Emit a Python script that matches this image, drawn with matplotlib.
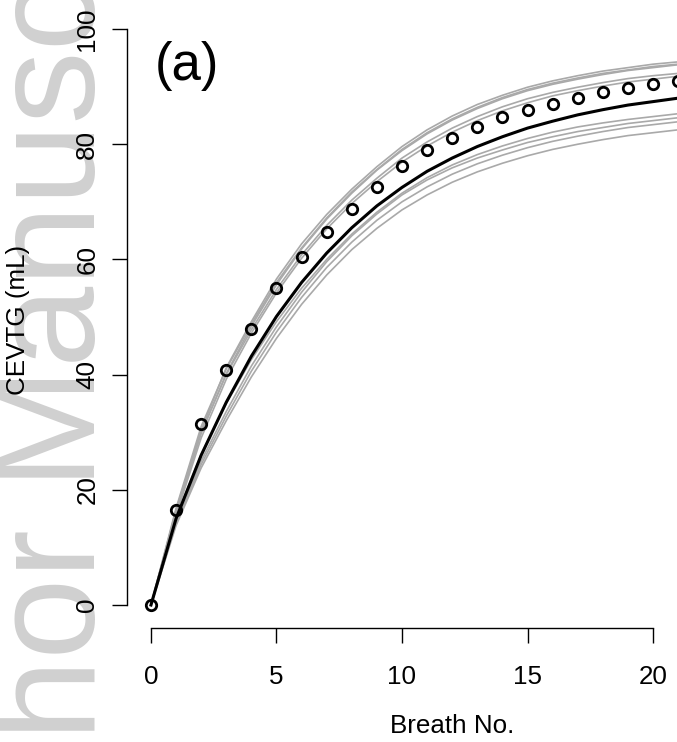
import matplotlib
matplotlib.use("Agg")
import matplotlib.pyplot as plt

plt.rcParams['font.family'] = ['Liberation Sans', 'DejaVu Sans']

# breath number and CEVTG volumes (mL)
breaths = list(range(25))
measured = [0, 16.5, 31.5, 40.8, 48.0, 55.1, 60.5, 64.8, 68.8, 72.5, 76.3, 79.0, 81.1,
            83.0, 84.7, 85.9, 87.0, 88.0, 89.0, 89.7, 90.4, 91.0, 91.5, 92.0, 92.4]
model = [0, 15.0, 26.0, 35.2, 43.2, 50.1, 56.0, 61.1, 65.5, 69.3, 72.5, 75.3, 77.6,
         79.6, 81.3, 82.8, 84.0, 85.1, 86.0, 86.8, 87.4, 88.0, 88.4, 88.8, 89.1]

# individual runs (grey)
run_u1 = [0, 16.5, 30.4, 41.2, 49.2, 56.6, 62.7, 67.8, 72.2, 76.1, 79.6, 82.5, 84.9,
          86.9, 88.5, 89.9, 91.0, 91.9, 92.7, 93.3, 93.9, 94.3, 94.7, 95.0, 95.2]
run_u2 = [0, 16.8, 31.0, 41.0, 48.8, 56.0, 62.0, 67.2, 71.7, 75.6, 79.1, 82.0, 84.4,
          86.4, 88.1, 89.5, 90.6, 91.5, 92.3, 92.9, 93.5, 93.9, 94.3, 94.6, 94.8]
run_u3 = [0, 16.0, 29.8, 40.2, 48.4, 55.6, 61.8, 67.0, 71.5, 75.5, 78.9, 81.8, 84.2,
          86.2, 87.9, 89.3, 90.4, 91.3, 92.1, 92.8, 93.3, 93.8, 94.2, 94.5, 94.7]
run_m1 = [0, 16.2, 30.0, 40.0, 47.8, 54.8, 60.8, 65.9, 70.3, 74.1, 77.6, 80.4, 82.8,
          84.8, 86.5, 87.9, 89.0, 89.9, 90.7, 91.4, 91.9, 92.3, 92.7, 93.0, 93.2]
run_m2 = [0, 15.6, 29.0, 39.2, 47.2, 54.2, 60.2, 65.3, 69.7, 73.5, 76.9, 79.7, 82.1,
          84.1, 85.8, 87.2, 88.4, 89.3, 90.1, 90.8, 91.3, 91.8, 92.2, 92.5, 92.7]
run_l1 = [0, 14.5, 25.0, 33.6, 41.5, 48.3, 54.3, 59.6, 64.1, 67.9, 71.2, 73.8, 75.9,
          77.6, 79.0, 80.3, 81.3, 82.2, 82.9, 83.6, 84.1, 84.6, 84.9, 85.2, 85.4]
run_l2 = [0, 14.2, 24.4, 32.8, 40.6, 47.4, 53.4, 58.6, 63.0, 66.8, 70.0, 72.6, 74.8,
          76.6, 78.1, 79.4, 80.5, 81.4, 82.2, 82.9, 83.4, 83.9, 84.3, 84.6, 84.8]
run_l3 = [0, 13.8, 23.8, 32.0, 39.6, 46.3, 52.2, 57.3, 61.7, 65.4, 68.6, 71.2, 73.4,
          75.2, 76.7, 78.0, 79.1, 80.0, 80.8, 81.5, 82.0, 82.5, 82.9, 83.2, 83.4]
run_l4 = [0, 15.2, 26.2, 35.0, 42.6, 49.2, 55.0, 60.0, 64.4, 68.2, 71.5, 74.2, 76.4,
          78.2, 79.7, 81.0, 82.1, 83.0, 83.7, 84.3, 84.8, 85.3, 85.6, 85.9, 86.1]
runs = [run_u1, run_u2, run_u3, run_m1, run_m2, run_l1, run_l2, run_l3, run_l4]

xticks = [0, 5, 10, 15, 20]
yticks = [0, 20, 40, 60, 80, 100]

fig = plt.figure(figsize=(6.77, 7.42), dpi=100)

# watermark behind everything
fig.text(95 / 677, -0.2925, "Author Manuscript", rotation=90, rotation_mode='anchor',
         ha='left', va='baseline', fontsize=105, color='#d0d0d0', zorder=-5)

ax = fig.add_axes([0.1874, 0.1536, 0.9611, 0.8383])
ax.patch.set_alpha(0)

for r in runs:
    ax.plot(breaths, r, color='#a9a9a9', lw=1.2, zorder=2)
ax.plot(breaths, model, color='black', lw=2.2, zorder=3)
ax.plot(breaths, measured, 'o', ms=7.5, mfc='none', mec='black', mew=2.0, zorder=4)

ax.set_xlim(-0.96, 24.96)
ax.set_ylim(-4, 104)

for s in ['top', 'right']:
    ax.spines[s].set_visible(False)
ax.spines['left'].set_bounds(0, 100)
ax.spines['bottom'].set_bounds(0, 20)
for s in ['left', 'bottom']:
    ax.spines[s].set_linewidth(1.0)

ax.set_xticks(xticks)
ax.set_yticks(yticks)
ax.tick_params(axis='both', direction='out', length=10.8, width=1.0, labelsize=18.7)
ax.tick_params(axis='x', pad=16)
ax.tick_params(axis='y', pad=9, labelrotation=90)
for lab in ax.get_yticklabels():
    lab.set_verticalalignment('center')

ax.set_xlabel("Breath No.", fontsize=18.7, labelpad=18)
fig.text(18 / 677, 0.5687, "CEVTG (mL)", rotation=90, ha='center', va='center', fontsize=18.7)
fig.text(154.5 / 677, (742 - 80) / 742, "(a)", fontsize=38, ha='left', va='baseline')

fig.savefig("out.png", dpi=100)
